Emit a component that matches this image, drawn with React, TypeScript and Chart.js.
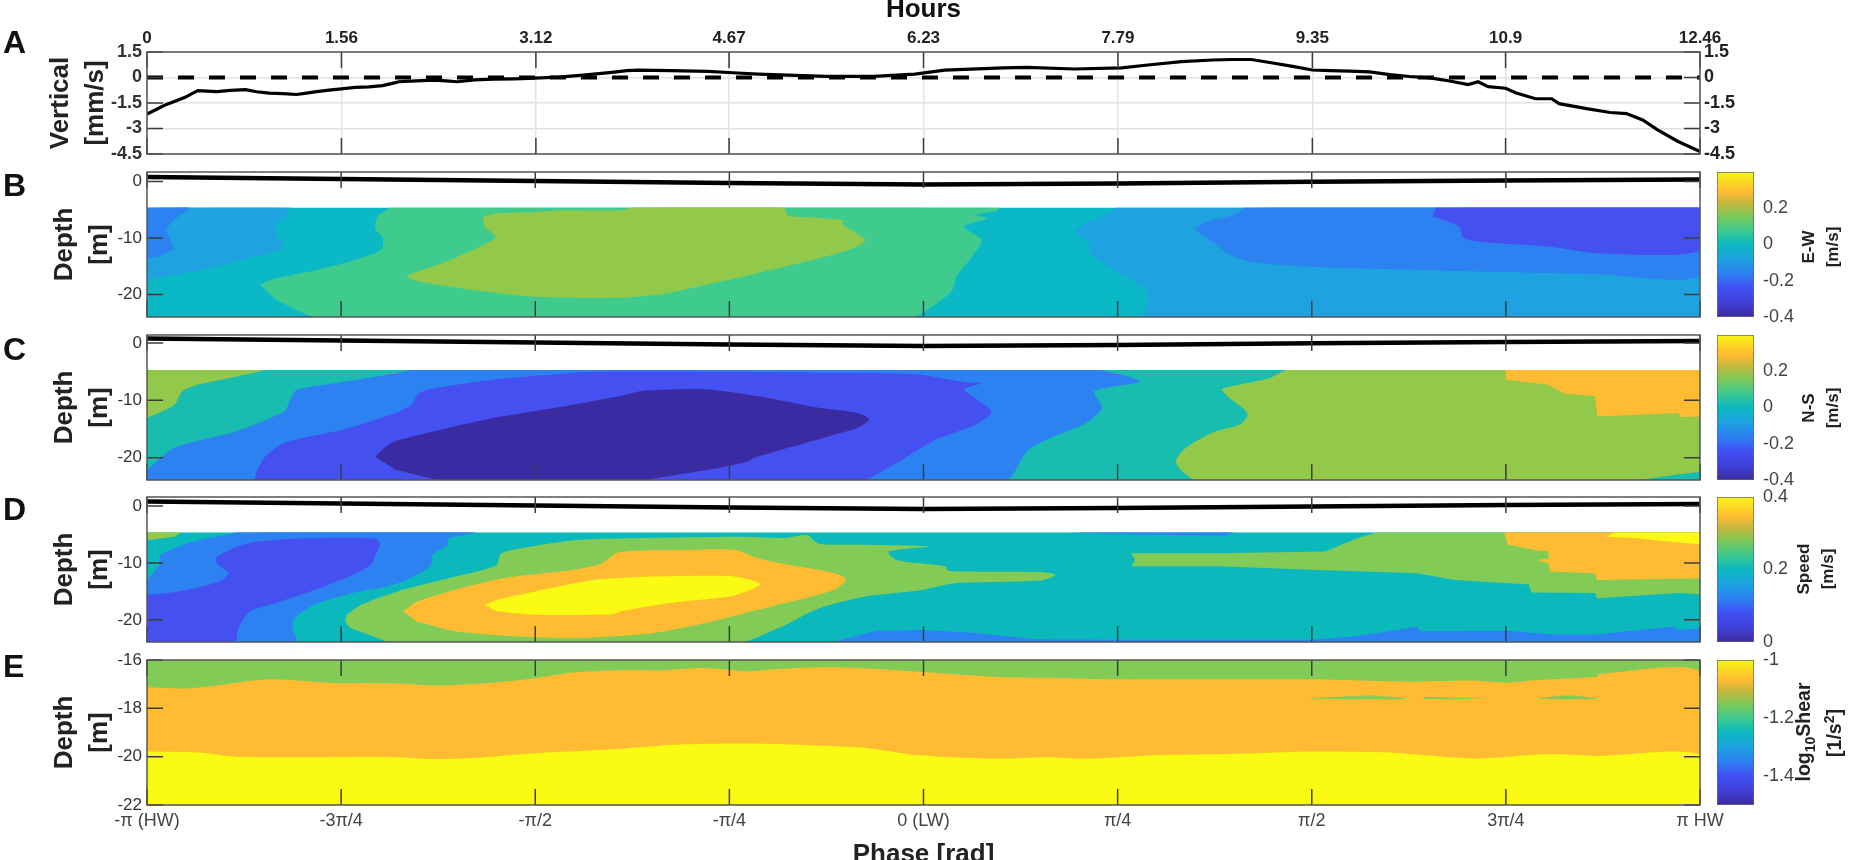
import { useEffect, useRef } from "react"
import { Chart, registerables } from "chart.js"

Chart.register(...registerables)
Chart.defaults.font.family = "'Liberation Sans', Arial, sans-serif"
Chart.defaults.color = "#333"

type Pt = [number, number]
type Layer = [Pt[], string, number?]

const hoursTicks = [0, 1.56, 3.12, 4.67, 6.23, 7.79, 9.35, 10.9, 12.46]
const velocityTicks = [1.5, 0, -1.5, -3, -4.5]
const phaseTicks = [-4, -3, -2, -1, 0, 1, 2, 3, 4]
const phaseLabels = ["-π (HW)", "-3π/4", "-π/2", "-π/4", "0 (LW)", "π/4", "π/2", "3π/4", "π HW"]
const depthTicks = [0, -10, -20]
const shearDepthTicks = [-16, -18, -20, -22]

// panel A, hours / mm/s
const verticalVelocity: Pt[] = [
  [0, -2.15], [0.07, -1.9], [0.15, -1.6], [0.23, -1.38], [0.31, -1.15], [0.36, -0.95], [0.41, -0.77], [0.48, -0.8],
  [0.56, -0.83], [0.67, -0.76], [0.79, -0.71], [0.88, -0.84], [0.98, -0.92], [1.09, -0.95], [1.2, -1], [1.28, -0.92],
  [1.36, -0.83], [1.46, -0.74], [1.56, -0.67], [1.67, -0.58], [1.78, -0.55], [1.89, -0.48], [1.96, -0.36], [2.02, -0.25],
  [2.16, -0.2], [2.3, -0.15], [2.4, -0.2], [2.49, -0.25], [2.63, -0.14], [2.78, -0.1], [2.95, -0.08], [3.11, -0.04],
  [3.3, 0.02], [3.5, 0.14], [3.73, 0.3], [3.85, 0.4], [3.94, 0.43], [4.2, 0.4], [4.5, 0.36], [4.7, 0.28],
  [4.9, 0.2], [5.2, 0.12], [5.45, 0.07], [5.83, 0.07], [6.16, 0.2], [6.4, 0.43], [6.87, 0.57], [7.06, 0.6],
  [7.44, 0.5], [7.82, 0.57], [8.05, 0.75], [8.3, 0.93], [8.55, 1.03], [8.7, 1.06], [8.86, 1.06], [9.02, 0.87],
  [9.18, 0.67], [9.35, 0.44], [9.49, 0.4], [9.65, 0.38], [9.81, 0.33], [9.97, 0.17], [10.13, 0.06], [10.29, -0.02],
  [10.44, -0.19], [10.6, -0.42], [10.68, -0.25], [10.76, -0.54], [10.9, -0.63], [10.98, -0.9], [11.14, -1.25], [11.27, -1.25],
  [11.33, -1.54], [11.55, -1.83], [11.74, -2.06], [11.87, -2.12], [12, -2.5], [12.12, -3.08], [12.28, -3.75], [12.46, -4.35],
]
const zeroLine: Pt[] = [[0, 0], [12.46, 0]]

// free surface, phase in units of pi/4 / depth in m
const surface: Pt[] = [[-4, 0.8], [-3, 0.45], [-2, 0.1], [-1, -0.25], [0, -0.5], [1, -0.35], [2, -0.05], [3, 0.2], [4, 0.35]]

// palette of the contour levels
const NAVY = "#3a2ba3"
const VIOLET = "#4550f0"
const BLUE = "#2c82f0"
const SKY = "#1fa3e0"
const TEAL = "#0bb8c6"
const SEA = "#18bdb0"
const MINT = "#3fcb8e"
const OLIVE = "#92c94a"
const GREEN = "#82cb56"
const ORANGE = "#ffbc33"
const YELLOW = "#fafa12"

const SMOOTH = 0.25

// panel B, E-W
const ewBase: Pt[] = [[-4, -4.6], [4, -4.6], [4, -24], [-4, -24]]
const ewSkyLeft: Pt[] = [[-4, -4.6], [-3.26, -4.6], [-3.28, -5.5], [-3.34, -8.6], [-3.3, -11.8], [-3.455, -13.3], [-3.64, -15.1], [-4, -17.4]]
const ewBlueLeft: Pt[] = [[-4, -4.6], [-3.78, -4.6], [-3.86, -6.8], [-3.9, -8.6], [-3.88, -10.4], [-3.86, -11.8], [-3.94, -13.3], [-4, -13.6]]
const ewMint: Pt[] = [
  [-2.75, -4.6], [0.39, -4.6], [0.38, -5.2], [0.27, -5.9], [0.33, -6.5], [0.21, -8], [0.3, -10.35], [0.25, -13.3],
  [0.17, -16.8], [0.149, -19.2], [0.067, -21.6], [-0.055, -24], [-3.13, -24], [-3.23, -22.7], [-3.33, -21], [-3.39, -19.2],
  [-3.415, -18.3], [-3.33, -17.1], [-3.13, -15.7], [-2.93, -13.9], [-2.795, -12.1], [-2.785, -10], [-2.825, -8.3], [-2.815, -6.2],
]
const ewOlive: Pt[] = [
  [-2.27, -6.2], [-2.26, -8], [-2.205, -9.8], [-2.32, -12.1], [-2.48, -14.5], [-2.66, -16.7], [-2.6, -17.7], [-2.32, -19.2],
  [-2.01, -20.4], [-1.56, -20.6], [-1.36, -20], [-1.2, -18.9], [-0.85, -16.2], [-0.54, -13.6], [-0.36, -11.8], [-0.3, -10.35],
  [-0.36, -8.9], [-0.42, -7.4], [-0.41, -6.9], [-0.55, -6.4], [-0.7, -6], [-0.72, -4.6], [-1.5, -4.6], [-1.56, -5.1],
  [-1.85, -5.1], [-2, -5.4], [-2.2, -5.6],
]
const ewSkyRight: Pt[] = [[1, -4.6], [0.933, -5.9], [0.78, -8.6], [0.85, -10.9], [0.86, -12.7], [1, -16.2], [1.127, -18.6], [1.157, -21], [1.136, -24], [4, -24], [4, -4.6]]
const ewBlueRight: Pt[] = [[1.39, -8.3], [1.49, -6.8], [1.6, -5.9], [1.66, -4.6], [4, -4.6], [4, -16.7], [3.46, -16.4], [2.6, -15.7], [1.99, -15.1], [1.68, -14.2], [1.58, -13], [1.49, -10.65]]
const ewViolet: Pt[] = [[2.64, -4.6], [4, -4.6], [4, -12.2], [3.48, -12.7], [3.22, -11.5], [2.91, -10.8], [2.78, -10], [2.76, -8], [2.62, -6.2]]

// panel C, N-S
const nsBase: Pt[] = [[-4, -4.7], [4, -4.7], [4, -24], [-4, -24]]
const nsOliveLeft: Pt[] = [[-4, -4.7], [-3.404, -4.7], [-3.537, -5.86], [-3.74, -7.3], [-3.82, -8.5], [-3.86, -10.8], [-4, -13.1]]
const nsBlue: Pt[] = [
  [-4, -22.1], [-3.86, -18.3], [-3.54, -15.4], [-3.29, -11.9], [-3.27, -10.5], [-3.23, -8.2], [-3.03, -7], [-2.72, -5.3],
  [-2.62, -4.7], [0.88, -4.7], [1.116, -6.7], [0.88, -8.4], [0.92, -11.3], [0.84, -13.9], [0.68, -16.2], [0.535, -18.8],
  [0.42, -24], [-4, -24],
]
const nsViolet: Pt[] = [
  [-3.445, -24], [-3.435, -22.4], [-3.39, -19.8], [-3.29, -17.4], [-2.99, -15.1], [-2.72, -12.2], [-2.64, -10.8], [-2.6, -8.8],
  [-2.52, -7.9], [-2.215, -6.4], [-1.91, -5.5], [-1.71, -5], [-1, -5], [-0.4, -5.2], [-0.03, -5.5], [0.23, -6.9],
  [0.3, -7], [0.21, -8.1], [0.35, -11.9], [0.27, -14.2], [0.067, -16.8], [-0.136, -20.9], [-0.3, -24],
]
const nsNavy: Pt[] = [
  [-2.825, -19.8], [-2.74, -17.4], [-2.52, -15.4], [-2.215, -13.1], [-1.91, -11.4], [-1.57, -9.3], [-1.46, -8.4], [-1.3, -8.1],
  [-1.11, -8.1], [-0.85, -9.3], [-0.54, -11.3], [-0.34, -12.2], [-0.28, -13.3], [-0.34, -14.8], [-0.54, -16.8], [-0.75, -18.8],
  [-0.87, -20], [-0.91, -20.7], [-1.09, -22], [-1.36, -23.5], [-1.46, -24], [-2.46, -24], [-2.72, -22.1],
]
const nsOliveRight: Pt[] = [
  [1.534, -8.1], [1.58, -7.6], [1.785, -6.1], [1.877, -4.7], [4, -4.7], [4, -24], [1.41, -24], [1.33, -22.3],
  [1.3, -20.6], [1.35, -18.3], [1.49, -15.6], [1.63, -14.2], [1.67, -12.5], [1.64, -11.2], [1.574, -9.6],
]
const nsOrange: Pt[] = [[3, -4.7], [4, -4.7], [4, -12.8], [3.9, -12.9], [3.89, -12.2], [3.47, -12.8], [3.46, -9.3], [3.3, -8.8], [3.22, -7.3], [3, -6.4]]
const nsSliver: Pt[] = [[3.67, -24], [3.89, -22.9], [4, -22.5], [4, -24]]

// panel D, speed
const spBase: Pt[] = [[-4, -4.6], [4, -4.6], [4, -24], [-4, -24]]
const spOliveCorner: Pt[] = [[-4, -4.6], [-3.82, -4.6], [-3.86, -5.4], [-4, -6]]
const spBlue: Pt[] = [
  [-4, -13], [-3.94, -10.6], [-3.93, -8.6], [-3.77, -6.3], [-3.56, -4.8], [-3.54, -4.6], [-2.31, -4.6], [-2.45, -5.7],
  [-2.45, -6.8], [-2.53, -8.6], [-2.54, -10.6], [-2.71, -13.6], [-2.94, -15.3], [-3.14, -17.4], [-3.24, -19.7], [-3.25, -21.5],
  [-3.23, -24], [-4, -24],
]
const spViolet: Pt[] = [
  [-4, -15.6], [-3.835, -15], [-3.63, -13.3], [-3.58, -11.8], [-3.64, -10.1], [-3.64, -8.9], [-3.49, -6.6], [-3.22, -5.7],
  [-2.82, -5.7], [-2.8, -6.8], [-2.82, -8.3], [-2.85, -10.4], [-2.98, -12.7], [-3.18, -15.3], [-3.37, -17.4], [-3.47, -18.5],
  [-3.53, -21.5], [-3.55, -24], [-4, -24],
]
const spGreen: Pt[] = [
  [-2.98, -20], [-2.96, -21.2], [-2.86, -22.6], [-2.735, -24], [-0.95, -24], [-0.75, -21.5], [-0.54, -18], [-0.3, -15.9],
  [-0.016, -14.8], [0.15, -13.6], [0.6, -13.1], [0.68, -12.1], [0.6, -11.6], [0.13, -11.4], [0.11, -10.6], [-0.14, -9.5],
  [-0.18, -8], [0.03, -7.1], [-0.3, -6.8], [-0.54, -6.6], [-0.6, -5.1], [-0.72, -5.6], [-0.95, -5.4], [-1.56, -5.7],
  [-1.8, -6], [-2.02, -7.1], [-2.175, -8.3], [-2.2, -10.4], [-2.41, -12.4], [-2.71, -15], [-2.9, -17.4], [-2.97, -19.1],
]
const spOrange: Pt[] = [
  [-2.68, -18.5], [-2.61, -16.8], [-2.41, -14.7], [-2.165, -12.7], [-1.8, -11.2], [-1.66, -10.1], [-1.57, -8.1], [-1.19, -7.7],
  [-0.97, -7.7], [-0.85, -9.2], [-0.65, -10.6], [-0.46, -11.8], [-0.4, -12.8], [-0.46, -14.7], [-0.65, -16.5], [-0.85, -18.2],
  [-1.09, -20.3], [-1.39, -22.3], [-1.8, -23.2], [-2.1, -22.9], [-2.41, -22], [-2.61, -20.3],
]
const spYellow: Pt[] = [
  [-2.26, -17.4], [-2.2, -16.5], [-2, -15], [-1.7, -13], [-1.39, -12.4], [-1, -12.3], [-0.89, -13], [-0.84, -13.7],
  [-0.89, -14.7], [-1, -15.9], [-1.3, -17], [-1.56, -18.5], [-1.6, -19], [-2, -19.1], [-2.2, -18.5],
]
const spBlueBottom: Pt[] = [
  [-0.48, -24], [-0.24, -21.9], [0, -21.8], [0.27, -22.3], [0.58, -23.4], [1, -23.5], [2, -23.5], [2.23, -22.9],
  [2.44, -21.8], [2.54, -21.2], [2.56, -22], [3, -21.9], [3.25, -22.6], [3.46, -22.6], [3.86, -21.2], [3.89, -21.8],
  [4, -21.5], [4, -24],
]
const spBlueTop: Pt[] = [[0.75, -4.6], [1.6, -4.6], [1.55, -5.2], [1.1, -5], [0.9, -4.8]]
const spGreenRight: Pt[] = [
  [1.07, -8.3], [1.09, -9.5], [1.07, -10.6], [1.52, -10.6], [2, -11.2], [2.54, -11.8], [2.74, -13], [3.12, -13.8],
  [3.13, -15.2], [3.46, -15.3], [3.47, -16.2], [3.89, -15.3], [4, -15.5], [4, -4.6], [2.34, -4.6], [2.23, -5.7],
  [2.07, -8], [1.52, -8.3], [1.15, -8.3],
]
const spOrangeRight: Pt[] = [
  [2.99, -4.6], [4, -4.6], [4, -12.7], [3.47, -13], [3.46, -11.8], [3.23, -11.5], [3.22, -10.1], [3.16, -9.5],
  [3.22, -9.2], [3.22, -8], [3.15, -7.7], [3.01, -6.8],
]
const spYellowRight: Pt[] = [[3.56, -4.6], [4, -4.6], [4, -6.7], [3.86, -6.3], [3.66, -5.6], [3.52, -5.4]]

// panel E, log10 shear
const shBase: Pt[] = [[-4, -16], [4, -16], [4, -22], [-4, -22]]
const shOrange: Pt[] = [
  [-4, -17.13], [-3.8, -17.18], [-3.62, -17.03], [-3.37, -16.8], [-3.03, -16.96], [-2.72, -16.96], [-2.52, -17.06], [-2.22, -16.94],
  [-2, -16.76], [-1.81, -16.52], [-1.56, -16.42], [-1.36, -16.43], [-1.15, -16.33], [-1, -16.4], [-0.91, -16.47], [-0.75, -16.37],
  [-0.48, -16.3], [-0.24, -16.37], [0, -16.5], [0.37, -16.7], [0.68, -16.74], [1, -16.8], [1.29, -16.8], [1.6, -16.8],
  [2, -16.8], [2.5, -16.9], [2.81, -16.85], [3.01, -16.94], [3.16, -16.83], [3.47, -16.69], [3.48, -16.58], [4, -16.51],
  [4, -22], [-4, -22],
]
const shYellow: Pt[] = [
  [-4, -19.79], [-3.74, -19.83], [-3.54, -20], [-3.13, -20.02], [-2.72, -20.02], [-2.52, -20.1], [-2.32, -20.06], [-2.01, -19.86],
  [-1.57, -19.68], [-1.26, -19.5], [-0.89, -19.46], [-0.3, -19.64], [-0.03, -19.94], [0.37, -20.08], [0.64, -20.02], [0.84, -20.09],
  [1.19, -19.94], [1.63, -19.88], [2, -19.79], [2.4, -19.83], [2.79, -20.07], [2.97, -20.03], [3.22, -19.89], [3.47, -19.97],
  [4, -19.93], [4, -22], [-4, -22],
]
const shSliverA: Pt[] = [[1.97, -17.6], [2.3, -17.47], [2.48, -17.58], [2.46, -17.62], [2.2, -17.62]]
const shSliverB: Pt[] = [[2.57, -17.6], [2.58, -17.52], [2.75, -17.57], [2.91, -17.6], [2.7, -17.62]]
const shSliverC: Pt[] = [[3.155, -17.6], [3.32, -17.47], [3.47, -17.6], [3.3, -17.63]]

// layers are listed bottom first, third item rounds the outline
const ewLayers: Layer[] = [
  [ewBase, TEAL], [ewSkyLeft, SKY, SMOOTH], [ewBlueLeft, BLUE, SMOOTH], [ewMint, MINT, SMOOTH], [ewOlive, OLIVE, SMOOTH],
  [ewSkyRight, SKY, SMOOTH], [ewBlueRight, BLUE, SMOOTH], [ewViolet, VIOLET, SMOOTH],
]
const nsLayers: Layer[] = [
  [nsBase, SEA], [nsOliveLeft, OLIVE, SMOOTH], [nsBlue, BLUE, SMOOTH], [nsViolet, VIOLET, SMOOTH], [nsNavy, NAVY, SMOOTH],
  [nsOliveRight, OLIVE, SMOOTH], [nsOrange, ORANGE], [nsSliver, SEA],
]
const spLayers: Layer[] = [
  [spBase, "#0bb9bd"], [spOliveCorner, OLIVE], [spBlue, BLUE, SMOOTH], [spViolet, VIOLET, SMOOTH], [spGreen, GREEN, SMOOTH],
  [spOrange, ORANGE, SMOOTH], [spYellow, YELLOW, SMOOTH], [spBlueBottom, BLUE], [spBlueTop, BLUE], [spGreenRight, GREEN],
  [spOrangeRight, ORANGE], [spYellowRight, YELLOW],
]
const shLayers: Layer[] = [
  [shBase, GREEN], [shOrange, ORANGE, SMOOTH], [shYellow, YELLOW, SMOOTH], [shSliverA, GREEN, SMOOTH], [shSliverB, GREEN, SMOOTH], [shSliverC, GREEN, SMOOTH],
]

const ewColorTicks = [0.2, 0, -0.2, -0.4]
const speedColorTicks = [0.4, 0.2, 0]
const shearColorTicks = [-1, -1.2, -1.4]
const colorStops: [number, string][] = [
  [0, "#3b2ba0"], [0.1, "#4040d8"], [0.2, "#4050f5"], [0.3, "#2c80f0"], [0.4, "#1ea2e2"], [0.5, "#0bb8c0"],
  [0.6, "#3fc98e"], [0.7, "#80c856"], [0.78, "#c0b840"], [0.86, "#ffb933"], [1, "#f8f516"],
]

const LEFT = 147
const RIGHT_GAP = 150
const TICK = 16

// fills the closed outline the line element computed through the scales
const contourFill = {
  id: "contourFill",
  beforeDatasetDraw(chart: any, args: any) {
    const ds = chart.data.datasets[args.index]
    if (!ds.contour) return
    const { ctx, chartArea: a, scales } = chart
    const ceiling = scales.y.getPixelForValue(ds.ceiling)
    ctx.save()
    ctx.beginPath()
    ctx.rect(a.left, ceiling, a.right - a.left, a.bottom - ceiling)
    ctx.clip()
    ctx.beginPath()
    args.meta.dataset.path(ctx)
    ctx.closePath()
    ctx.fillStyle = ds.backgroundColor
    ctx.fill()
    ctx.restore()
    return false
  },
}

// matlab style box with inward ticks
const boxTicks = {
  id: "boxTicks",
  afterDraw(chart: any) {
    const { ctx, chartArea: a, scales } = chart
    ctx.save()
    ctx.strokeStyle = "#3c3c3c"
    ctx.lineWidth = 1.5
    ctx.beginPath()
    scales.x.ticks.forEach((t: any) => {
      const px = scales.x.getPixelForValue(t.value)
      ctx.moveTo(px, a.top)
      ctx.lineTo(px, a.top + TICK)
      ctx.moveTo(px, a.bottom)
      ctx.lineTo(px, a.bottom - TICK)
    })
    scales.y.ticks.forEach((t: any) => {
      const py = scales.y.getPixelForValue(t.value)
      ctx.moveTo(a.left, py)
      ctx.lineTo(a.left + TICK, py)
      ctx.moveTo(a.right, py)
      ctx.lineTo(a.right - TICK, py)
    })
    ctx.stroke()
    ctx.strokeStyle = "#555"
    ctx.strokeRect(a.left, a.top, a.right - a.left, a.bottom - a.top)
    ctx.restore()
  },
}

function setTicks(values: number[]) {
  return (scale: any) => {
    scale.ticks = values.map((value) => ({ value }))
  }
}

const tickOpts = { autoSkip: false, maxRotation: 0, minRotation: 0, callback: (v: number) => String(v) }

function yAxis(min: number, max: number, ticks: number[], title: string[], titlePad = 47, bold = false, size = 17) {
  return {
    min,
    max,
    afterBuildTicks: setTicks(ticks),
    afterFit: (s: any) => {
      s.width = LEFT
    },
    grid: { display: false, drawTicks: false },
    border: { display: false },
    ticks: { ...tickOpts, padding: 5, color: "#333", font: { size, weight: bold ? "bold" : "normal" } },
    title: { display: true, text: title, padding: { top: titlePad, bottom: 0 }, color: "#222", font: { size: 26, weight: "bold", lineHeight: 1.35 } },
  }
}

function makeDepthChart(canvas: HTMLCanvasElement, layers: Layer[], yMin: number, yMax: number, ticks: number[], withSurface: boolean, phaseAxis: boolean) {
  const ceiling = layers[0][0][0][1]
  const datasets: any[] = layers.map(([data, color, tension], i) => ({
    data,
    contour: true,
    ceiling,
    backgroundColor: color,
    tension: tension || 0,
    borderDash: [1, 1],
    pointRadius: 0,
    order: layers.length - i,
  }))
  if (withSurface) {
    datasets.push({ data: surface, borderColor: "#000", borderWidth: 4.5, pointRadius: 0, order: 0, fill: false })
  }
  const x: any = { type: "linear", min: -4, max: 4, afterBuildTicks: setTicks(phaseTicks), display: false }
  if (phaseAxis) {
    x.display = true
    x.afterFit = (s: any) => {
      s.height = 65
    }
    x.grid = { display: false, drawTicks: false }
    x.border = { display: false }
    x.ticks = { ...tickOpts, padding: 5, color: "#444", font: { size: 18 }, callback: (v: number) => phaseLabels[v + 4] }
    x.title = { display: true, text: "Phase [rad]", padding: 0, color: "#222", font: { size: 26, weight: "bold", lineHeight: 1.2 } }
  }
  return new Chart(canvas, {
    type: "line",
    data: { datasets },
    plugins: [contourFill, boxTicks],
    options: {
      responsive: false,
      animation: false,
      events: [],
      layout: { padding: { top: 20, bottom: phaseAxis ? 0 : 20, right: RIGHT_GAP, left: 0 } },
      plugins: { legend: { display: false }, tooltip: { enabled: false } },
      scales: { x, y: yAxis(yMin, yMax, ticks, ["Depth", "[m]"]) },
    } as any,
  })
}

function makeVerticalChart(canvas: HTMLCanvasElement) {
  const grid = { color: "#e2e2e2", lineWidth: 1.5, drawTicks: false }
  return new Chart(canvas, {
    type: "line",
    data: {
      datasets: [
        { data: verticalVelocity, borderColor: "#000", borderWidth: 3.2, pointRadius: 0, order: 1 },
        { data: zeroLine, borderColor: "#000", borderWidth: 4, borderDash: [16, 15], pointRadius: 0, order: 2 },
      ],
    },
    plugins: [boxTicks],
    options: {
      responsive: false,
      animation: false,
      events: [],
      layout: { padding: { top: 0, bottom: 16, right: RIGHT_GAP - 60, left: 0 } },
      plugins: { legend: { display: false }, tooltip: { enabled: false } },
      scales: {
        x: {
          type: "linear",
          position: "top",
          min: 0,
          max: 12.46,
          afterBuildTicks: setTicks(hoursTicks),
          afterFit: (s: any) => {
            s.height = 52
          },
          grid,
          border: { display: false },
          ticks: { ...tickOpts, padding: 3, color: "#222", font: { size: 17, weight: "bold" } },
          title: { display: true, text: "Hours", padding: 0, color: "#111", font: { size: 26, weight: "bold", lineHeight: 0.77 } },
        },
        y: { ...yAxis(-4.5, 1.5, velocityTicks, ["Vertical", "[mm/s]"], 43, true, 18), grid },
        yRight: {
          position: "right",
          min: -4.5,
          max: 1.5,
          afterBuildTicks: setTicks(velocityTicks),
          afterFit: (s: any) => {
            s.width = 60
          },
          grid: { display: false, drawTicks: false },
          border: { display: false },
          ticks: { ...tickOpts, padding: 4, color: "#222", font: { size: 18, weight: "bold" } },
        },
      },
    } as any,
  })
}

function makeColorbar(canvas: HTMLCanvasElement, min: number, max: number, ticks: number[]) {
  return new Chart(canvas, {
    type: "bar",
    data: {
      labels: ["scale"],
      datasets: [
        {
          data: [[min, max]],
          borderColor: "#666",
          borderWidth: 1,
          borderSkipped: false,
          barPercentage: 1,
          categoryPercentage: 1,
          backgroundColor: (c: any) => {
            const area = c.chart.chartArea
            if (!area) return "#fff"
            const g = c.chart.ctx.createLinearGradient(0, area.bottom, 0, area.top)
            colorStops.forEach(([at, color]) => g.addColorStop(at, color))
            return g
          },
        },
      ],
    },
    options: {
      responsive: false,
      animation: false,
      events: [],
      layout: { padding: { top: 20, bottom: 20, left: 17, right: 0 } },
      plugins: { legend: { display: false }, tooltip: { enabled: false } },
      scales: {
        x: { display: false },
        y: {
          position: "right",
          min,
          max,
          afterBuildTicks: setTicks(ticks),
          afterFit: (s: any) => {
            s.width = 46
          },
          grid: { display: false, drawTicks: false },
          border: { display: false },
          ticks: { ...tickOpts, padding: 9, color: "#444", font: { size: 18 } },
        },
      },
    } as any,
  })
}

function Letter({ top, children }: { top: number; children: string }) {
  return (
    <div style={{ position: "absolute", left: 3, top, fontSize: 32, lineHeight: "30px", fontWeight: "bold", color: "#111" }}>
      {children}
    </div>
  )
}

function SideLabel({ x, y, size = 17, children }: { x: number; y: number; size?: number; children: any }) {
  return (
    <div
      style={{
        position: "absolute",
        left: x,
        top: y,
        fontSize: size,
        fontWeight: "bold",
        color: "#222",
        whiteSpace: "nowrap",
        lineHeight: 1,
        transform: "translate(-50%, -50%) rotate(-90deg)",
      }}
    >
      {children}
    </div>
  )
}

export default function App() {
  const vRef = useRef<HTMLCanvasElement>(null)
  const ewRef = useRef<HTMLCanvasElement>(null)
  const nsRef = useRef<HTMLCanvasElement>(null)
  const spRef = useRef<HTMLCanvasElement>(null)
  const shRef = useRef<HTMLCanvasElement>(null)
  const cb1Ref = useRef<HTMLCanvasElement>(null)
  const cb2Ref = useRef<HTMLCanvasElement>(null)
  const cb3Ref = useRef<HTMLCanvasElement>(null)
  const cb4Ref = useRef<HTMLCanvasElement>(null)

  useEffect(() => {
    const charts = [
      makeVerticalChart(vRef.current!),
      makeDepthChart(ewRef.current!, ewLayers, -24, 1.7, depthTicks, true, false),
      makeDepthChart(nsRef.current!, nsLayers, -23.9, 1.4, depthTicks, true, false),
      makeDepthChart(spRef.current!, spLayers, -23.9, 1.6, depthTicks, true, false),
      makeDepthChart(shRef.current!, shLayers, -22, -16, shearDepthTicks, false, true),
      makeColorbar(cb1Ref.current!, -0.4, 0.4, ewColorTicks),
      makeColorbar(cb2Ref.current!, -0.4, 0.4, ewColorTicks),
      makeColorbar(cb3Ref.current!, 0, 0.4, speedColorTicks),
      makeColorbar(cb4Ref.current!, -1.5, -1, shearColorTicks),
    ]
    return () => charts.forEach((c) => c.destroy())
  }, [])

  const at = (top: number): any => ({ position: "absolute", left: 0, top })
  const cb = (top: number): any => ({ position: "absolute", left: 1700, top })

  return (
    <div style={{ position: "fixed", inset: 0, overflow: "hidden", background: "#fff", filter: "blur(0.5px)", fontFamily: "'Liberation Sans', Arial, sans-serif" }}>
      <canvas ref={vRef} width={1850} height={170} style={at(0)} />
      <canvas ref={ewRef} width={1850} height={185} style={at(152)} />
      <canvas ref={nsRef} width={1850} height={185} style={at(315)} />
      <canvas ref={spRef} width={1850} height={185} style={at(477)} />
      <canvas ref={shRef} width={1850} height={230} style={at(640)} />
      <canvas ref={cb1Ref} width={100} height={185} style={cb(152)} />
      <canvas ref={cb2Ref} width={100} height={185} style={cb(315)} />
      <canvas ref={cb3Ref} width={100} height={185} style={cb(477)} />
      <canvas ref={cb4Ref} width={100} height={185} style={cb(640)} />
      <Letter top={27}>A</Letter>
      <Letter top={170}>B</Letter>
      <Letter top={334}>C</Letter>
      <Letter top={494}>D</Letter>
      <Letter top={651}>E</Letter>
      <SideLabel x={1808} y={247}>E-W</SideLabel>
      <SideLabel x={1832} y={247}>[m/s]</SideLabel>
      <SideLabel x={1808} y={408}>N-S</SideLabel>
      <SideLabel x={1832} y={408}>[m/s]</SideLabel>
      <SideLabel x={1803} y={569}>Speed</SideLabel>
      <SideLabel x={1827} y={569}>[m/s]</SideLabel>
      <SideLabel x={1804} y={732} size={19.5}>
        log<sub style={{ fontSize: 14, lineHeight: 0 }}>10</sub>Shear
      </SideLabel>
      <SideLabel x={1835} y={733} size={19.5}>
        [1/s<sup style={{ fontSize: 14, lineHeight: 0 }}>2</sup>]
      </SideLabel>
    </div>
  )
}
